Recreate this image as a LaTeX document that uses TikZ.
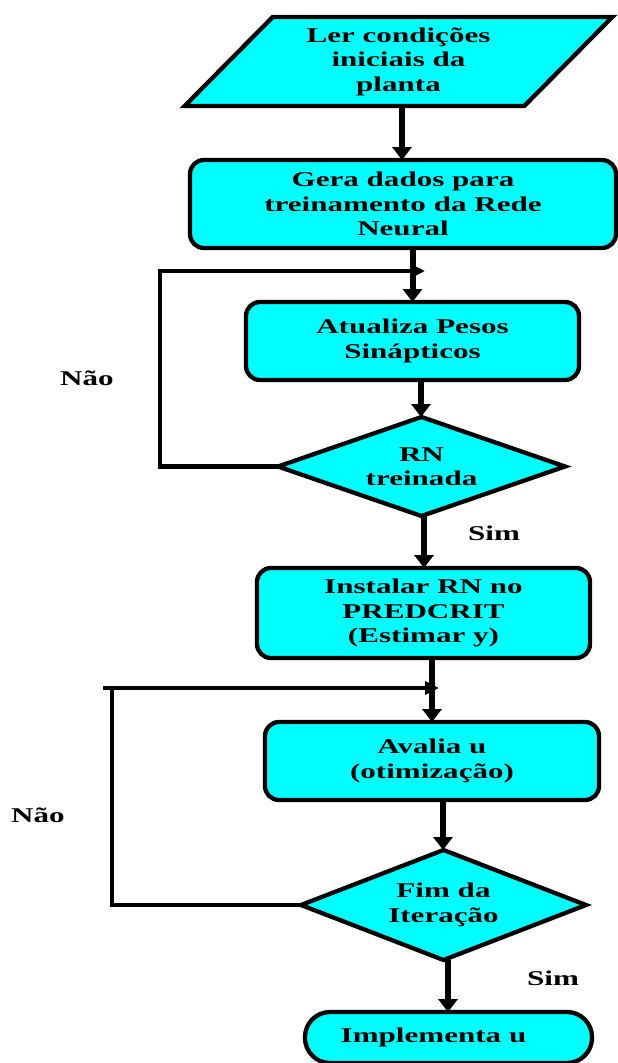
\documentclass[tikz,border=0pt]{standalone}
\usepackage{fontspec}
\setmainfont{Liberation Serif}[FakeStretch=1.48]
\usetikzlibrary{shapes.geometric,arrows.meta}
\definecolor{cy}{RGB}{0,255,255}
\begin{document}
\begin{tikzpicture}[x=1pt,y=-1pt,
  txt/.style={font=\fontsize{21}{24.5}\selectfont\bfseries,align=center},
  shp/.style={txt,draw,line width=4.3pt,fill=cy,inner sep=0pt,outer sep=0pt},
  box/.style={shp,rectangle,rounded corners=14pt},
  para/.style={shp,trapezium,trapezium left angle=46.6,trapezium right angle=133.4,trapezium stretches=true},
  dia/.style={shp,diamond,aspect=2.9},
  term/.style={shp,rectangle,rounded corners=25pt},
  lab/.style={txt},
  arr/.style={line width=6pt,-{Triangle[length=13pt,width=19pt]}},
  larr/.style={line width=4.5pt,-{Triangle[length=14pt,width=13pt]}}]
\useasboundingbox (0,0) rectangle (618,1063);
\node[para,minimum width=429pt,minimum height=89pt] (n1) at (398.5,61.5) {Ler condições\\iniciais da\\planta};
\node[box,minimum width=426pt,minimum height=88pt] (n2) at (403,204) {Gera dados para\\treinamento da Rede\\Neural};
\node[box,minimum width=333pt,minimum height=78pt] (n3) at (412.5,341) {Atualiza Pesos\\Sinápticos};
\node[dia,minimum width=287pt,minimum height=99pt] (n4) at (421.5,466.5) {RN\\treinada};
\node[box,minimum width=333pt,minimum height=90pt] (n5) at (423.5,613) {Instalar RN no\\PREDCRIT\\(Estimar y)};
\node[box,minimum width=334pt,minimum height=78pt] (n6) at (432,761) {Avalia u\\(otimização)};
\node[dia,minimum width=285pt,minimum height=110pt] (n7) at (443.5,905) {Fim da\\Iteração};
\node[term,minimum width=287pt,minimum height=51pt] (n8) at (448.5,1037.5) {Implementa u\hspace*{30pt}};
\node[lab] (l1) at (87,378) {Não};
\node[lab] (l2) at (494,533) {Sim};
\node[lab] (l3) at (38,815) {Não};
\node[lab] (l4) at (553,978) {Sim};
\coordinate (x1) at (402,0);
\coordinate (x2) at (412.5,0);
\coordinate (x3) at (421,0);
\coordinate (x4) at (424,0);
\coordinate (x5) at (432,0);
\coordinate (x6) at (443,0);
\coordinate (x7) at (448,0);
\coordinate (c1) at (160,271);
\coordinate (e1) at (425,271);
\coordinate (c2) at (112,688);
\coordinate (c2b) at (103,688);
\coordinate (e2) at (439,688);
\draw[arr] (n1.south -| x1) -- (n2.north -| x1);
\draw[arr] (n2.south -| x2) -- (n3.north -| x2);
\draw[arr] (n3.south -| x3) -- (n4.north -| x3);
\draw[arr] (n4.south -| x4) -- (n5.north -| x4);
\draw[arr] (n5.south -| x5) -- (n6.north -| x5);
\draw[arr] (n6.south -| x6) -- (n7.north -| x6);
\draw[arr] (n7.south -| x7) -- (n8.north -| x7);
\draw[larr] (n4.west) -| (c1) -- (e1);
\draw[larr] (n7.west) -| (c2) -- (e2);
\draw[line width=4.5pt] (c2b) -- (c2);
\end{tikzpicture}
\end{document}
